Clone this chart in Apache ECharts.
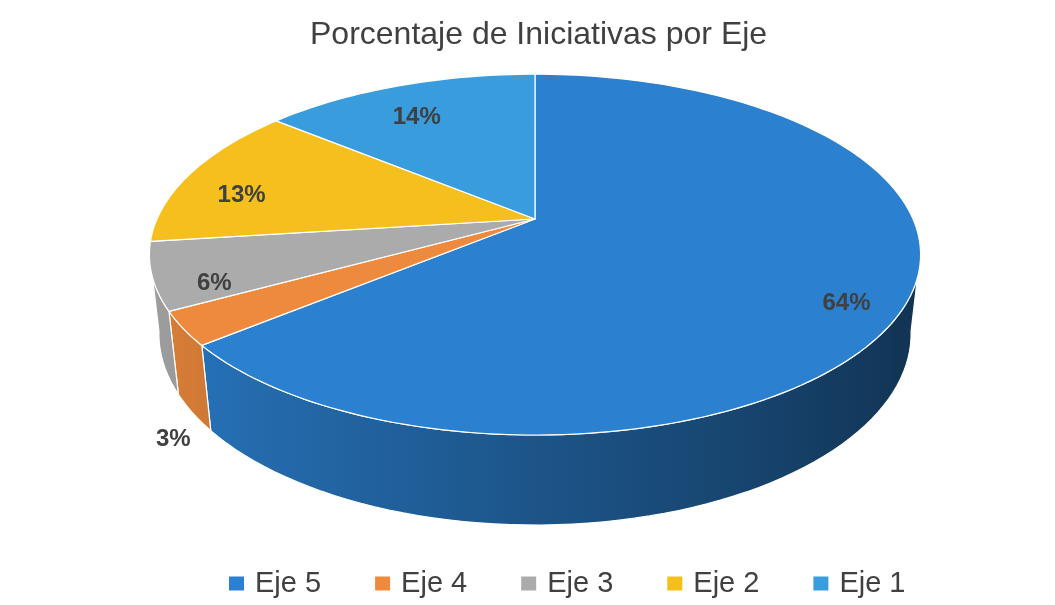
<!DOCTYPE html>
<html><head><meta charset="utf-8">
<script src="https://cdn.jsdelivr.net/npm/echarts@6/dist/echarts.min.js"></script>
<style>html,body{margin:0;padding:0;background:#fff}#c{width:1055px;height:605px}</style>
</head><body><div id="c"></div>
<script>
// ---- data ----
const titleText = 'Porcentaje de Iniciativas por Eje';
const categories = ['Eje 5', 'Eje 4', 'Eje 3', 'Eje 2', 'Eje 1'];
const values = [64, 3, 6, 13, 14];
const colors = ['#2B80CF', '#EE8A3D', '#ABABAB', '#F5BF1D', '#389CDD'];

// ---- derived ----
const total = values.reduce((a, b) => a + b, 0);
const starts = [];
{ let acc = 0; values.forEach(v => { starts.push(acc); acc += v; }); }

// ---- 3D view parameters ----
const VIEW = { cx: 535, cy: 219, k: 378, tilt: 27.3, dist: 4.5, depth: 0.237 };
const S = Math.sin(VIEW.tilt * Math.PI / 180), C = Math.cos(VIEW.tilt * Math.PI / 180);
// visible side-wall range (silhouette of the rim)
const SIL = Math.acos(-C / VIEW.dist) * 180 / Math.PI; // ~101 deg
function project(r, deg, y) {
  const t = deg * Math.PI / 180;
  const X = r * Math.sin(t), Z = r * Math.cos(t);
  const yv = y * C + Z * S, zv = -y * S + Z * C, w = 1 + zv / VIEW.dist;
  return [VIEW.cx + VIEW.k * X / w, VIEW.cy - VIEW.k * yv / w];
}
function shade(hex, f) {
  const n = parseInt(hex.slice(1), 16);
  const r = Math.round(((n >> 16) & 255) * f), g = Math.round(((n >> 8) & 255) * f), b = Math.round((n & 255) * f);
  return 'rgb(' + r + ',' + g + ',' + b + ')';
}
function light(deg) { return 0.66 - 0.28 * Math.sin(deg * Math.PI / 180); }

function makeRenderItem(i) {
  return function (params, api) {
    const v = api.value(0);
    const a0 = starts[i] / total * 360, a1 = (starts[i] + v) / total * 360;
    const children = [];
    // side wall (visible front part only)
    const w0 = Math.max(a0, SIL - 1), w1 = Math.min(a1, 360 - SIL + 1);
    if (w1 > w0) {
      const n = Math.max(4, Math.ceil((w1 - w0) / 2));
      const top = [], bot = [], degs = [];
      for (let j = 0; j <= n; j++) {
        const d = w0 + (w1 - w0) * j / n;
        degs.push(d);
        top.push(project(1, d, 0));
        bot.push(project(1, d, -VIEW.depth));
      }
      const pts = top.concat(bot.slice().reverse());
      const xs = top.map(p => p[0]);
      const xmin = Math.min.apply(null, xs), xmax = Math.max.apply(null, xs);
      const stops = degs.map((d, j) => ({
        offset: xmax > xmin ? (xs[j] - xmin) / (xmax - xmin) : 0,
        color: shade(colors[i], light(d))
      })).sort((a, b) => a.offset - b.offset);
      children.push({
        type: 'polygon', z2: 1,
        shape: { points: pts },
        style: {
          fill: { type: 'linear', x: xmin, y: 0, x2: xmax + 0.01, y2: 0, global: true, colorStops: stops },
          stroke: '#ffffff', lineWidth: 1.2, lineJoin: 'round'
        }
      });
    }
    // top face
    const m = Math.max(2, Math.ceil((a1 - a0) / 1.5));
    const tp = [project(0, 0, 0)];
    for (let j = 0; j <= m; j++) tp.push(project(1, a0 + (a1 - a0) * j / m, 0));
    children.push({
      type: 'polygon', z2: 10,
      shape: { points: tp },
      style: { fill: colors[i], stroke: '#ffffff', lineWidth: 1.2, lineJoin: 'round' }
    });
    // label
    const mid = (a0 + a1) / 2;
    const pct = Math.round(v / total * 100) + '%';
    const inside = v / total >= 0.05;
    const lp = inside ? project(0.85, mid, -VIEW.depth * 0.2) : project(1.05, mid, -VIEW.depth);
    children.push({
      type: 'text', z2: 30,
      x: lp[0], y: lp[1] + (inside ? 0 : 8),
      style: {
        text: pct, fill: '#404040',
        font: 'bold 24px "Liberation Sans", Arial, sans-serif',
        align: 'center', verticalAlign: inside ? 'middle' : 'top'
      }
    });
    return { type: 'group', children: children };
  };
}

const chart = echarts.init(document.getElementById('c'), null, { renderer: 'canvas' });
chart.setOption({
  animation: false,
  backgroundColor: '#ffffff',
  color: colors,
  title: {
    text: titleText, left: 305, top: 14,
    textStyle: { fontSize: 32, fontWeight: 'normal', color: '#404040', fontFamily: 'Liberation Sans' }
  },
  legend: {
    data: categories, left: 224, top: 564,
    icon: 'rect', itemWidth: 15, itemHeight: 14, itemGap: 54,
    textStyle: { fontSize: 29, color: '#404040', fontFamily: 'Liberation Sans', padding: [0, 0, 0, 6] }
  },
  series: categories.map((name, i) => ({
    type: 'custom', name: name, coordinateSystem: 'none',
    itemStyle: { color: colors[i] },
    renderItem: makeRenderItem(i),
    data: [[values[i]]]
  }))
});
</script></body></html>
